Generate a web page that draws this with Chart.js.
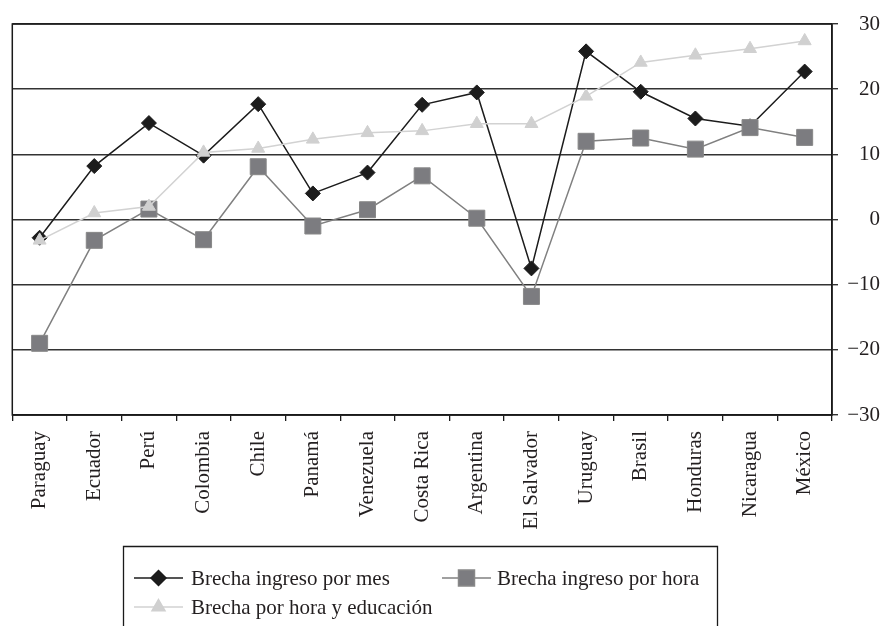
<!DOCTYPE html>
<html>
<head>
<meta charset="utf-8">
<script src="https://cdn.jsdelivr.net/npm/chart.js@4/dist/chart.umd.min.js"></script>
<style>
  html, body { margin: 0; padding: 0; background: #fff; }
  #wrap { width: 880px; height: 626px; }
</style>
</head>
<body>
<div id="wrap"><canvas id="chart" width="880" height="626"></canvas></div>
<script>
const paises = ["Paraguay", "Ecuador", "Perú", "Colombia", "Chile", "Panamá", "Venezuela", "Costa Rica",
  "Argentina", "El Salvador", "Uruguay", "Brasil", "Honduras", "Nicaragua", "México"];
const brechaMes = [-2.8, 8.2, 14.8, 9.8, 17.7, 4.0, 7.2, 17.6, 19.5, -7.5, 25.8, 19.6, 15.5, 14.3, 22.7];
const brechaHora = [-19.0, -3.2, 1.6, -3.1, 8.1, -1.0, 1.5, 6.7, 0.2, -11.8, 12.0, 12.5, 10.8, 14.1, 12.6];
const brechaEduc = [-3.2, 1.0, 2.0, 10.3, 10.9, 12.3, 13.3, 13.6, 14.7, 14.7, 18.9, 24.1, 25.2, 26.2, 27.4];
const yTicks = [-30, -20, -10, 0, 10, 20, 30];

const SERIF = "'Liberation Serif', 'Times New Roman', serif";
const INK = "#231f20";

// legend rows drawn below the chart, inside an open-bottom box
const legendItems = [
  { ds: 0, line: [134, 183], text: 191, y: 578 },
  { ds: 1, line: [442, 491], text: 497, y: 578 },
  { ds: 2, line: [134, 183], text: 191, y: 607 },
];

const frameAndLegend = {
  id: "frameAndLegend",
  afterDraw(chart) {
    const ctx = chart.ctx;
    const a = chart.chartArea;
    ctx.save();
    ctx.strokeStyle = "#1a1a1a";
    ctx.lineWidth = 1.5;
    ctx.strokeRect(a.left, a.top, a.right - a.left, a.bottom - a.top);

    // legend box (bottom edge falls outside the picture)
    ctx.lineWidth = 1.3;
    ctx.beginPath();
    ctx.moveTo(123.5, 640);
    ctx.lineTo(123.5, 546.5);
    ctx.lineTo(717.5, 546.5);
    ctx.lineTo(717.5, 640);
    ctx.stroke();

    ctx.font = "21px " + SERIF;
    ctx.textBaseline = "middle";
    ctx.fillStyle = INK;
    legendItems.forEach((it) => {
      const ds = chart.data.datasets[it.ds];
      ctx.strokeStyle = ds.borderColor;
      ctx.lineWidth = 1.5;
      ctx.beginPath();
      ctx.moveTo(it.line[0], it.y);
      ctx.lineTo(it.line[1], it.y);
      ctx.stroke();
      ctx.fillStyle = ds.pointBackgroundColor;
      ctx.strokeStyle = ds.pointBorderColor;
      Chart.helpers.drawPoint(ctx, {
        pointStyle: ds.pointStyle, radius: ds.pointRadius, rotation: 0, borderWidth: 1,
      }, (it.line[0] + it.line[1]) / 2, it.y);
      ctx.fillStyle = INK;
      ctx.fillText(ds.label, it.text, it.y + 1);
    });
    ctx.restore();
  },
};

new Chart(document.getElementById("chart"), {
  type: "line",
  data: {
    labels: paises,
    datasets: [
      {
        label: "Brecha ingreso por mes",
        data: brechaMes,
        borderColor: "#1c1c1c",
        borderWidth: 1.5,
        pointStyle: "rectRot",
        pointRadius: 7.5,
        pointBackgroundColor: "#1c1c1c",
        pointBorderColor: "#1c1c1c",
        pointBorderWidth: 1,
        tension: 0,
        order: 3,
      },
      {
        label: "Brecha ingreso por hora",
        data: brechaHora,
        borderColor: "#808080",
        borderWidth: 1.5,
        pointStyle: "rect",
        pointRadius: 11.3,
        pointBackgroundColor: "#7c7c80",
        pointBorderColor: "#888888",
        pointBorderWidth: 1,
        tension: 0,
        order: 2,
      },
      {
        label: "Brecha por hora y educación",
        data: brechaEduc,
        borderColor: "#d2d2d2",
        borderWidth: 1.5,
        pointStyle: "triangle",
        pointRadius: 7.5,
        pointBackgroundColor: "#d0d0d0",
        pointBorderColor: "#d0d0d0",
        pointBorderWidth: 1,
        tension: 0,
        order: 1,
      },
    ],
  },
  options: {
    responsive: false,
    animation: false,
    events: [],
    layout: { padding: { left: 9, top: 24, right: 0, bottom: 0 } },
    plugins: { legend: { display: false }, tooltip: { enabled: false } },
    scales: {
      x: {
        offset: true,
        grid: { drawOnChartArea: false, drawTicks: true, tickLength: 6, color: "#1a1a1a", lineWidth: 1.3, offset: true },
        border: { display: true, color: "#1a1a1a", width: 1.5 },
        ticks: {
          autoSkip: false, minRotation: 90, maxRotation: 90, padding: 10,
          color: INK, font: { family: SERIF, size: 21 },
        },
        afterFit(scale) {
          scale.height = 211;
          scale.paddingLeft = 0;
          scale.paddingRight = 0;
        },
      },
      y: {
        position: "right",
        min: -30,
        max: 30,
        afterBuildTicks(scale) { scale.ticks = yTicks.map((v) => ({ value: v })); },
        grid: { color: "#333333", lineWidth: 1.4, drawTicks: true, tickLength: 6 },
        border: { display: true, color: "#1a1a1a", width: 1.5 },
        ticks: {
          crossAlign: "far", padding: 6, color: INK, font: { family: SERIF, size: 21 },
          callback: (v) => (v < 0 ? "\u2212" + Math.abs(v) : String(v)),
        },
        afterFit(scale) { scale.width = 48; },
      },
    },
  },
  plugins: [frameAndLegend],
});
</script>
</body>
</html>
